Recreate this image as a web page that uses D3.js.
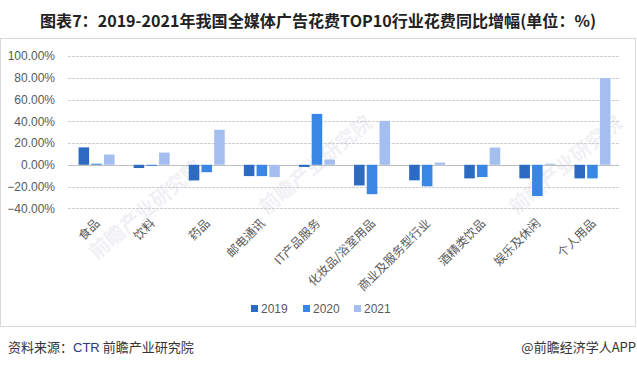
<!DOCTYPE html>
<html><head><meta charset="utf-8">
<script src="https://cdn.jsdelivr.net/npm/d3@7"></script>
<style>body{margin:0;background:#fff;}svg{display:block;}</style>
</head><body>
<svg id="c" width="637" height="367"></svg>
<script>
const categories = ["食品","饮料","药品","邮电通讯","IT产品服务","化妆品/浴室用品","商业及服务型行业","酒精类饮品","娱乐及休闲","个人用品"];
const years = ["2019","2020","2021"];
const v2019 = [16, -3, -14.4, -10.4, -2, -19, -14.3, -12.5, -12.5, -12.5];
const v2020 = [1, -1, -6.8, -10.4, 46.8, -27, -19.8, -11.3, -28.7, -12.5];
const v2021 = [9.4, 11.2, 32.2, -11.3, 4.8, 40.4, 2, 15.8, 1, 79.7];
const yTicks = [-40, -20, 0, 20, 40, 60, 80, 100];
const colors = ["#2C6BC1", "#3A86E5", "#A5BEF0"];
const series = [v2019, v2020, v2021];

const svg = d3.select("#c");
// chart border
svg.append("rect").attr("x",0.5).attr("y",38.5).attr("width",635).attr("height",288)
  .attr("fill","none").attr("stroke","#d9d9d9");

// title
svg.append("text").attr("x",318).attr("y",27).attr("text-anchor","middle")
  .attr("font-family","'Noto Sans CJK SC', sans-serif").attr("font-weight","bold")
  .attr("font-size",16).attr("fill","#222").attr("textLength",556).attr("lengthAdjust","spacingAndGlyphs")
  .text("图表7：2019-2021年我国全媒体广告花费TOP10行业花费同比增幅(单位：%)");

// faint watermarks
const wm = [[320,170,20],[150,215,20],[570,170,20]];
wm.forEach(([x,y,s])=>{
  svg.append("text").attr("transform",`translate(${x},${y}) rotate(-40)`).attr("text-anchor","middle")
    .attr("font-family","'Noto Sans CJK SC', sans-serif").attr("font-weight","bold").attr("font-size",s)
    .attr("fill","#f0f1f4").text("前瞻产业研究院");
});

const x = d3.scaleBand().domain(categories).range([68, 619]);
const y = d3.scaleLinear().domain([-40, 100]).range([208.3, 56]);
const xs = d3.scaleBand().domain(years).range([-17, 19]).paddingInner(0.17);

// gridlines
svg.append("g").selectAll("line").data(yTicks).join("line")
  .attr("x1",68).attr("x2",619).attr("y1",d=>Math.round(y(d))+0.5).attr("y2",d=>Math.round(y(d))+0.5)
  .attr("stroke",d=>d===0?"#bfbfbf":"#cfcfcf").attr("stroke-dasharray",d=>d===0?null:"3,1");

// y axis
const ya = d3.axisLeft(y).tickValues(yTicks).tickSize(0).tickPadding(0)
  .tickFormat(d=>d3.format(".2f")(d)+"%");
const yg = svg.append("g").attr("transform","translate(55,0)").call(ya);
yg.select(".domain").remove();
yg.selectAll("text").attr("font-family","'Liberation Sans', Arial, sans-serif").attr("font-size",12).attr("fill","#595959");

// bars
series.forEach((s,i)=>{
  svg.append("g").selectAll("rect").data(s).join("rect")
    .attr("x",(d,j)=>x(categories[j]) + x.bandwidth()/2 + xs(years[i]))
    .attr("width",xs.bandwidth())
    .attr("y",d=>Math.min(y(d),y(0)))
    .attr("height",d=>Math.abs(y(d)-y(0)))
    .attr("fill",colors[i]);
});

// x labels
const xa = d3.axisBottom(x).tickSize(0).tickPadding(0);
const xg = svg.append("g").attr("transform","translate(0,212)").call(xa);
xg.select(".domain").remove();
xg.selectAll("text").attr("font-family","'Noto Sans CJK SC', serif").attr("font-size",12).attr("fill","#595959")
  .attr("text-anchor","end").attr("dy","0.35em").attr("transform","translate(2,9) rotate(-45)");

// legend
const lg = svg.append("g");
const lx = [251, 303, 354];
years.forEach((yr,i)=>{
  lg.append("rect").attr("x",lx[i]).attr("y",305).attr("width",7).attr("height",7).attr("fill",colors[i]);
  lg.append("text").attr("x",lx[i]+10).attr("y",313).attr("font-family","'Liberation Sans', Arial, sans-serif")
    .attr("font-size",12).attr("fill","#595959").text(yr);
});

// footer
const ft = svg.append("text").attr("x",8).attr("y",352).attr("font-family","'Noto Sans CJK SC', sans-serif")
  .attr("font-size",13).attr("fill","#333");
ft.append("tspan").text("资料来源：");
ft.append("tspan").attr("fill","#2a3a7a").attr("font-family","'Liberation Sans', Arial, sans-serif").text("CTR");
ft.append("tspan").text(" 前瞻产业研究院");
svg.append("text").attr("x",636).attr("y",352).attr("text-anchor","end")
  .attr("font-family","'Noto Sans CJK SC', sans-serif").attr("font-size",13).attr("fill","#333")
  .text("@前瞻经济学人APP");
</script>
</body></html>
